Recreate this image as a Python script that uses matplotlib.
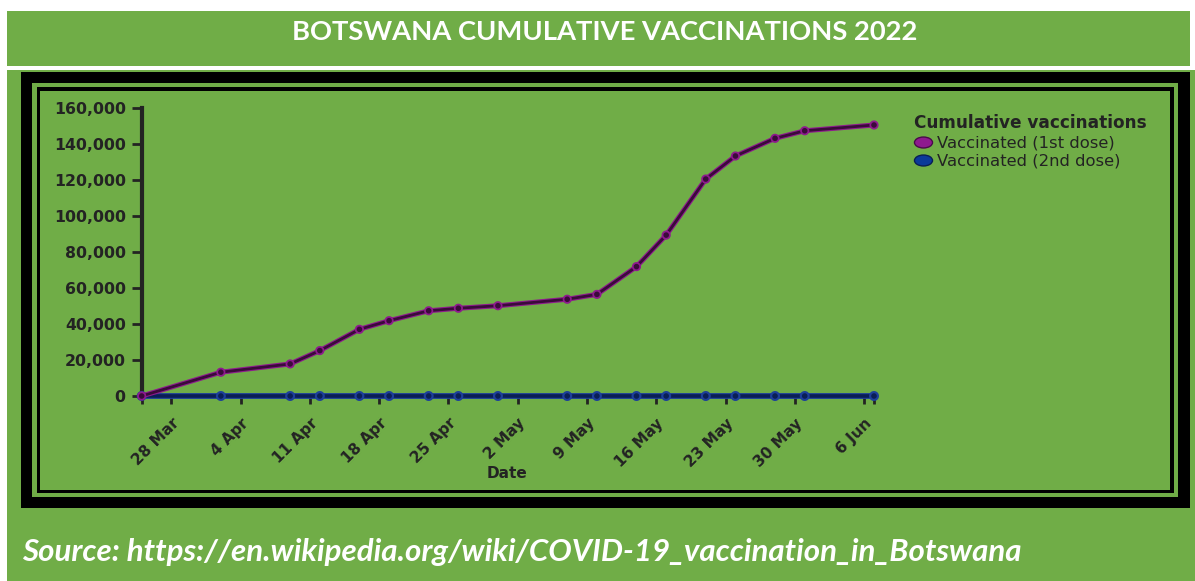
import matplotlib
matplotlib.use('Agg')
import matplotlib.pyplot as plt
import matplotlib.dates as mdates
import matplotlib.patheffects as pe
import matplotlib.transforms as mtransforms
from matplotlib.patches import Rectangle
from matplotlib.lines import Line2D
from matplotlib.path import Path
import datetime as dt

# data
dates = ['2022-03-25', '2022-04-02', '2022-04-09', '2022-04-12', '2022-04-16',
         '2022-04-19', '2022-04-23', '2022-04-26', '2022-04-30', '2022-05-07',
         '2022-05-10', '2022-05-14', '2022-05-17', '2022-05-21', '2022-05-24',
         '2022-05-28', '2022-05-31', '2022-06-07']
first_dose = [0, 13200, 17800, 25200, 37000, 41800, 47300, 48700, 50100, 53700,
              56400, 71800, 89300, 120400, 133200, 143000, 147200, 150400]
second_dose = [0, 0, 0, 0, 0, 0, 0, 0, 0, 0, 0, 0, 0, 0, 0, 0, 0, 0]

tick_dates = ['2022-03-28', '2022-04-04', '2022-04-11', '2022-04-18', '2022-04-25',
              '2022-05-02', '2022-05-09', '2022-05-16', '2022-05-23', '2022-05-30',
              '2022-06-06']
tick_labels = ['28 Mar', '4 Apr', '11 Apr', '18 Apr', '25 Apr', '2 May', '9 May',
               '16 May', '23 May', '30 May', '6 Jun']
y_ticks = [0, 20000, 40000, 60000, 80000, 100000, 120000, 140000, 160000]

title = 'BOTSWANA CUMULATIVE VACCINATIONS 2022'
source = 'Source: https://en.wikipedia.org/wiki/COVID-19_vaccination_in_Botswana'

W, H = 1195, 581
GREEN = '#70ad47'
INK = '#232323'
PURPLE = '#8e1a8e'
PURPLE_DARK = '#3a0a3a'
BLUE = '#1d3f9a'
BLUE_DARK = '#0a1f55'

to_date = lambda s: dt.datetime.strptime(s, '%Y-%m-%d')
x = [to_date(d) for d in dates]
xt = [to_date(d) for d in tick_dates]

fig = plt.figure(figsize=(W / 100, H / 100), dpi=100, facecolor='white')


def box(x0, y0, x1, y1, color):
    # pixel coords measured from the top-left corner
    fig.patches.append(Rectangle((x0 / W, 1 - y1 / H), (x1 - x0) / W, (y1 - y0) / H,
                                 transform=fig.transFigure, facecolor=color,
                                 edgecolor='none', zorder=-5))


box(7, 11, 1190, 66, GREEN)          # header band
box(7, 70, 1195, 581, GREEN)         # body
box(21, 72, 1190, 508, 'black')      # thick frame
box(32, 83, 1178, 497, GREEN)
box(36.5, 86.5, 1173.5, 492.5, 'black')  # thin frame
box(40, 90.5, 1170, 489.5, GREEN)

ax = fig.add_axes([141.7 / W, 1 - 396 / H, (874 - 141.7) / W, (396 - 107.7) / H])
ax.set_facecolor('none')

ax.plot(x, second_dose, color=BLUE_DARK, lw=2.6, marker='o', ms=3, mfc=BLUE_DARK,
        mec=BLUE_DARK, clip_on=False, zorder=4,
        path_effects=[pe.Stroke(linewidth=4.2, foreground=BLUE), pe.Normal()])
ax.plot(x, first_dose, color=PURPLE_DARK, lw=2.0, marker='o', ms=3, mfc=PURPLE_DARK,
        mec=PURPLE_DARK, clip_on=False, zorder=5,
        path_effects=[pe.Stroke(linewidth=3.6, foreground=PURPLE), pe.Normal()])

ax.set_xlim(x[0], x[-1])
ax.set_ylim(0, 160000)

for s in ['top', 'right']:
    ax.spines[s].set_visible(False)
ax.spines['left'].set_color(INK)
ax.spines['left'].set_linewidth(3)
ax.spines['bottom'].set_color(BLUE_DARK)
ax.spines['bottom'].set_linewidth(2)

ax.set_yticks(y_ticks)
ax.set_yticklabels([f'{v:,}' for v in y_ticks])
ax.tick_params(axis='y', length=7.5, width=2, color=INK, pad=4,
               labelsize=11.3, labelcolor=INK)
for lab in ax.get_yticklabels():
    lab.set_fontweight('bold')
    lab.set_family('DejaVu Sans')

ax.set_xticks(xt)
ax.set_xticks([x[0], x[-1]], minor=True)
ax.set_xticklabels(tick_labels)
ax.tick_params(axis='x', which='both', length=6, width=2, color=INK, pad=8,
               labelsize=11, labelcolor=INK)
for lab in ax.get_xticklabels():
    lab.set_rotation(45)
    lab.set_ha('right')
    lab.set_va('top')
    lab.set_rotation_mode('anchor')
    lab.set_fontweight('bold')

fig.text(507 / W, 1 - 473 / H, 'Date', ha='center', va='center',
         fontsize=11, fontweight='bold', color=INK, family='DejaVu Sans')

# legend with stretched dots like the reference
oval = Path.unit_circle().transformed(mtransforms.Affine2D().scale(1.65, 1.0))
handles = [Line2D([], [], ls='none', marker=oval, ms=13, mfc=PURPLE, mec='#4a0a4a', mew=1),
           Line2D([], [], ls='none', marker=oval, ms=13, mfc='#0b3a9a', mec='#0a1f55', mew=1)]
leg = fig.legend(handles, ['Vaccinated (1st dose)', 'Vaccinated (2nd dose)'],
                 title='Cumulative vaccinations', loc='upper left',
                 bbox_to_anchor=(914 / W, 1 - 114 / H), frameon=False,
                 fontsize=11.8, labelcolor=INK, borderpad=0, borderaxespad=0,
                 handlelength=1.1, handletextpad=0.3, labelspacing=0.2,
                 alignment='left',
                 title_fontproperties={'weight': 'bold', 'size': 12.2})
leg.get_title().set_color(INK)

t1 = fig.text(605 / W, 1 - 40 / H, title, ha='center', va='baseline', color='white',
              fontsize=18, fontweight='bold', family=['Lato', 'DejaVu Sans'])
t2 = fig.text(22 / W, 1 - 561 / H, source, ha='left', va='baseline', color='white',
              fontsize=20, fontweight='bold', fontstyle='italic',
              family=['Lato', 'DejaVu Sans'])

# fit the two Calibri-style captions to their measured widths
fig.canvas.draw()
r = fig.canvas.get_renderer()
for t, target in [(t1, 625), (t2, 1000)]:
    w = t.get_window_extent(r).width
    t.set_fontsize(t.get_fontsize() * target / w)

fig.savefig('out.png', dpi=100, facecolor='white')
